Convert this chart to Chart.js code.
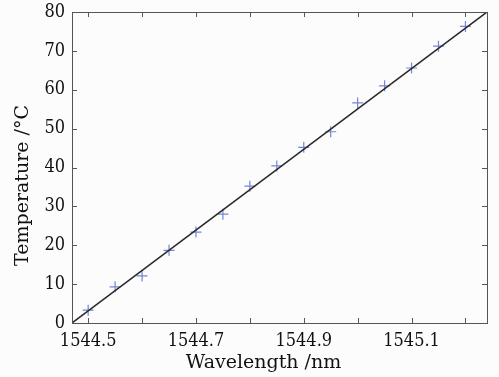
<!DOCTYPE html>
<html><head><meta charset="utf-8">
<script src="https://cdn.jsdelivr.net/npm/chart.js@4/dist/chart.umd.min.js"></script>
<style>html,body{margin:0;padding:0;background:#fcfcfc;}#wrap{width:499px;height:377px;}</style>
</head><body><div id="wrap"><canvas id="c" width="499" height="377"></canvas></div>
<script>
const wavelength = [1544.5,1544.55,1544.6,1544.65,1544.7,1544.75,1544.8,1544.85,1544.9,1544.95,1545.0,1545.05,1545.1,1545.15,1545.2];
const temperature = [3.3,9.3,12.1,18.7,23.4,28.0,35.2,40.4,45.2,49.2,56.6,61.0,65.6,71.2,76.3];
const fitX = [1544.47,1545.24];
const fitY = [0,80];
const xTicks = [1544.5,1544.6,1544.7,1544.8,1544.9,1545.0,1545.1,1545.2];
const xTickLabels = ['1544.5','','1544.7','','1544.9','','1545.1',''];
const yTicks = [0,10,20,30,40,50,60,70,80];
const yTickLabels = ['0','10','20','30','40','50','60','70','80'];
const xTitle = 'Wavelength /nm';
const yTitle = 'Temperature /°C';

const FONT = '"DejaVu Serif Condensed", "DejaVu Serif", serif';
const TFONT = '19px "DejaVu Serif", serif';
const frame = {
  id:'frame',
  afterDatasetsDraw(chart){
    const {ctx, chartArea:a, scales:{x,y}} = chart;
    ctx.save();
    ctx.strokeStyle='#555'; ctx.lineWidth=1;
    ctx.strokeRect(Math.round(a.left)+0.5, Math.round(a.top)+0.5, Math.round(a.right-a.left), Math.round(a.bottom-a.top));
    const L=5;
    ctx.beginPath();
    xTicks.forEach(v=>{const p=Math.round(x.getPixelForValue(v))+0.5;
      ctx.moveTo(p,a.bottom); ctx.lineTo(p,a.bottom-L);
      ctx.moveTo(p,a.top); ctx.lineTo(p,a.top+L);});
    yTicks.forEach(v=>{const p=Math.round(y.getPixelForValue(v))+0.5;
      ctx.moveTo(a.left,p); ctx.lineTo(a.left+L,p);
      ctx.moveTo(a.right,p); ctx.lineTo(a.right-L,p);});
    ctx.stroke();
    // axis titles
    ctx.fillStyle='#111'; ctx.font=TFONT; ctx.textAlign='center'; ctx.textBaseline='alphabetic';
    const cx=(a.left+a.right)/2, cy=(a.top+a.bottom)/2;
    ctx.fillText(xTitle, cx-16, a.bottom+45);
    ctx.translate(27.5, cy+18); ctx.rotate(-Math.PI/2);
    ctx.fillText(yTitle, 0, 0);
    ctx.restore();
  }
};
new Chart(document.getElementById('c'),{
  type:'scatter',
  data:{datasets:[
    {data:wavelength.map((v,i)=>({x:v,y:temperature[i]})),pointStyle:'cross',pointRadius:5.5,pointBorderWidth:1.2,borderColor:'#7585d5',backgroundColor:'#7585d5',showLine:false,order:2},
    {data:fitX.map((v,i)=>({x:v,y:fitY[i]})),showLine:true,pointRadius:0,borderColor:'#2a2a2a',borderWidth:1.5,order:1}
  ]},
  plugins:[frame],
  options:{
    responsive:false,animation:false,
    layout:{padding:{left:0,right:12,top:12,bottom:0}},
    plugins:{legend:{display:false},tooltip:{enabled:false}},
    scales:{
      x:{type:'linear',min:1544.47,max:1545.24,
        grid:{display:false,drawTicks:false},border:{display:false},
        afterBuildTicks:s=>{s.ticks=xTicks.map(v=>({value:v}));},
        afterFit:s=>{s.height=54;s.paddingLeft=0;s.paddingRight=0;},
        ticks:{padding:8,color:'#111',font:{family:FONT,size:18},maxRotation:0,autoSkip:false,
          callback:(v,i)=>xTickLabels[i]},
        title:{display:false}
      },
      y:{type:'linear',min:0,max:80,
        grid:{display:false,drawTicks:false},border:{display:false},
        afterBuildTicks:s=>{s.ticks=yTicks.map(v=>({value:v}));},
        afterFit:s=>{s.width=72;s.paddingTop=0;s.paddingBottom=0;},
        ticks:{padding:7,color:'#111',font:{family:FONT,size:18},autoSkip:false,
          callback:(v,i)=>yTickLabels[i]},
        title:{display:false}
      }
    }
  }
});
</script></body></html>
